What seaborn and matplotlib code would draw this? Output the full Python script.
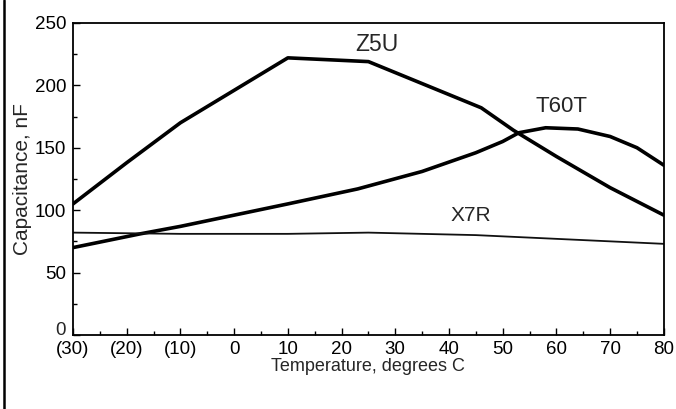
import numpy as np
import pandas as pd
import seaborn as sns
import matplotlib.pyplot as plt
from matplotlib.lines import Line2D
from matplotlib.ticker import MultipleLocator

# values
z5u_temp = [-30, -20, -10, 0, 10, 25, 46, 52, 60, 70, 80]
z5u_cap = [105, 138, 170, 196, 222, 219, 182, 164, 143, 118, 96]

t60t_temp = [-30, -17.5, -10, 0, 10, 23, 35, 45, 50, 53, 58, 64, 70, 75, 80]
t60t_cap = [70, 81, 87, 96, 105, 117, 131, 146, 155, 162, 166, 165, 159, 150, 136]

x7r_temp = [-30, -10, 0, 10, 25, 35, 45, 55, 65, 80]
x7r_cap = [82, 81, 81, 81, 82, 81, 80, 78, 76, 73]

x_ticks = [-30, -20, -10, 0, 10, 20, 30, 40, 50, 60, 70, 80]
x_tick_labels = ["(30)", "(20)", "(10)", "0", "10", "20", "30", "40", "50", "60", "70", "80"]
y_ticks = [0, 50, 100, 150, 200, 250]
y_tick_labels = ["0", "50", "100", "150", "200", "250"]

df = pd.concat([
    pd.DataFrame({"temp": z5u_temp, "cap": z5u_cap, "type": "Z5U"}),
    pd.DataFrame({"temp": t60t_temp, "cap": t60t_cap, "type": "T60T"}),
    pd.DataFrame({"temp": x7r_temp, "cap": x7r_cap, "type": "X7R"}),
])

sns.set_style("ticks")
plt.rcParams["font.family"] = ["Liberation Sans", "DejaVu Sans"]

fig = plt.figure(figsize=(6.76, 4.09), dpi=100)
ax = fig.add_axes([0.108, 0.181, 0.874, 0.763])

sns.lineplot(data=df, x="temp", y="cap", hue="type", size="type",
             palette={"Z5U": "black", "T60T": "black", "X7R": "#111111"},
             sizes={"Z5U": 2.6, "T60T": 2.6, "X7R": 1.3},
             sort=False, legend=False, ax=ax)

ax.set_xlim(-30, 80)
ax.set_ylim(0, 250)
ax.set_xticks(x_ticks)
ax.set_xticklabels(x_tick_labels)
ax.set_yticks(y_ticks)
# the "0" is drawn by hand a touch higher, as in the scan
ax.set_yticklabels([""] + y_tick_labels[1:])
ax.annotate(y_tick_labels[0], xy=(0, 0), xycoords=("axes fraction", "data"),
            xytext=(-5, -3), textcoords="offset points",
            ha="right", va="bottom", fontsize=13.5)
ax.xaxis.set_minor_locator(MultipleLocator(5))
ax.yaxis.set_minor_locator(MultipleLocator(25))
ax.tick_params(which="both", direction="in", length=5, width=1, colors="black",
               labelsize=13.5)
ax.tick_params(axis="x", pad=4)
ax.tick_params(axis="y", pad=5)
ax.tick_params(which="minor", length=3)
for s in ax.spines.values():
    s.set_visible(True)
    s.set_linewidth(1.3)
    s.set_color("black")

ax.set_xlabel("Temperature, degrees C", fontsize=13, labelpad=0)
ax.set_ylabel("Capacitance, nF", fontsize=15, labelpad=2)

ax.text(26.5, 233, "Z5U", fontsize=16.5, ha="center", va="center")
ax.text(61, 183, "T60T", fontsize=16, ha="center", va="center")
ax.text(44, 96, "X7R", fontsize=15, ha="center", va="center")

# page border on the left edge of the scan
fig.add_artist(Line2D([0.006, 0.006], [0, 1], color="black", lw=1.8,
                      transform=fig.transFigure))

fig.savefig("out.png", dpi=100, facecolor="white")
